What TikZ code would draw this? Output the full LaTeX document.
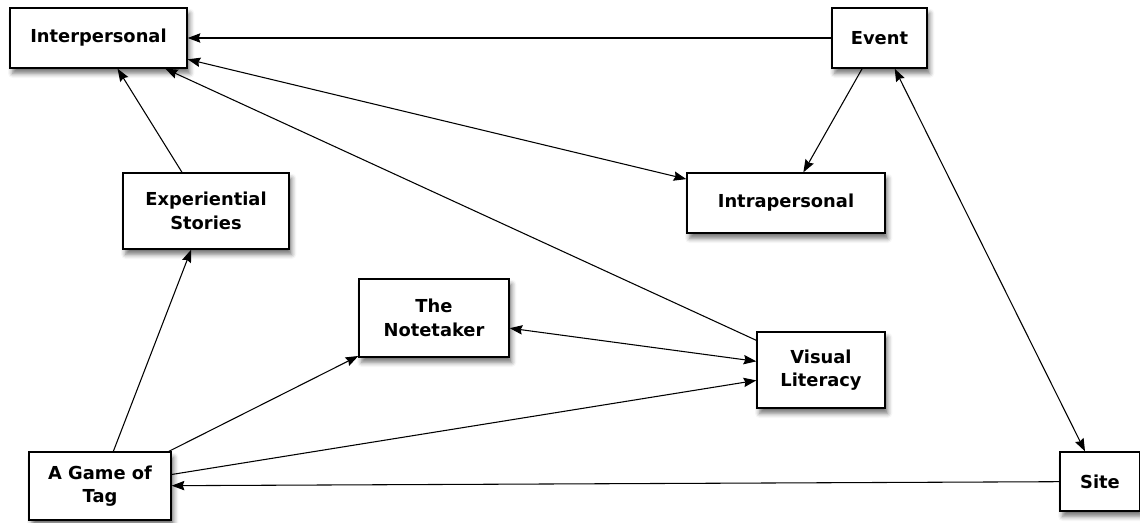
\documentclass[tikz,border=0pt]{standalone}
\usepackage{fontspec}
\setsansfont{DejaVu Sans}
\usetikzlibrary{arrows.meta,shadows.blur}

\begin{document}
\begin{tikzpicture}[
    x=0.75pt, y=-0.75pt,
    box/.style={draw, line width=1pt, fill=white, align=center, inner sep=2pt,
        font=\sffamily\bfseries\fontsize{13.4}{17.5}\selectfont,
        blur shadow={shadow xshift=2pt, shadow yshift=-4pt, shadow blur radius=3.5pt, shadow opacity=55}},
    arr/.style={-{Stealth[length=9.5pt, width=7pt, inset=1.2pt]}, line width=0.8pt},
    dbl/.style={{Stealth[length=9.5pt, width=7pt, inset=1.2pt]}-{Stealth[length=9.5pt, width=7pt, inset=1.2pt]}, line width=0.8pt}
]
\useasboundingbox (0,0) rectangle (1140,522);
\node[box, minimum width=132.75pt, minimum height=45pt] (inter) at (98.5,38) {Interpersonal};
\node[box, minimum width=71.25pt, minimum height=45pt] (event) at (879.5,38) {Event};
\node[box, minimum width=124.5pt, minimum height=57pt] (exp) at (206,211) {Experiential\\Stories};
\node[box, minimum width=148.5pt, minimum height=45pt] (intra) at (786,203) {Intrapersonal};
\node[box, minimum width=112.5pt, minimum height=58.5pt] (note) at (434,318) {The\\Notetaker};
\node[box, minimum width=96pt, minimum height=57pt] (vis) at (821,370) {Visual\\Literacy};
\node[box, minimum width=106.5pt, minimum height=51pt] (tag) at (100,486) {A Game of\\Tag};
\node[box, minimum width=60pt, minimum height=44.25pt] (site) at (1100,481.5) {Site};
\draw[arr] (event) -- (inter);
\draw[dbl] (inter) -- (intra);
\draw[arr] (vis) -- (inter);
\draw[arr] (exp) -- (inter);
\draw[arr] (tag) -- (exp);
\draw[arr] (event) -- (intra);
\draw[dbl] (event) -- (site);
\draw[arr] (site) -- (tag);
\draw[arr] (tag) -- (note);
\draw[arr] (tag) -- (vis);
\draw[dbl] (note) -- (vis);
\end{tikzpicture}
\end{document}
